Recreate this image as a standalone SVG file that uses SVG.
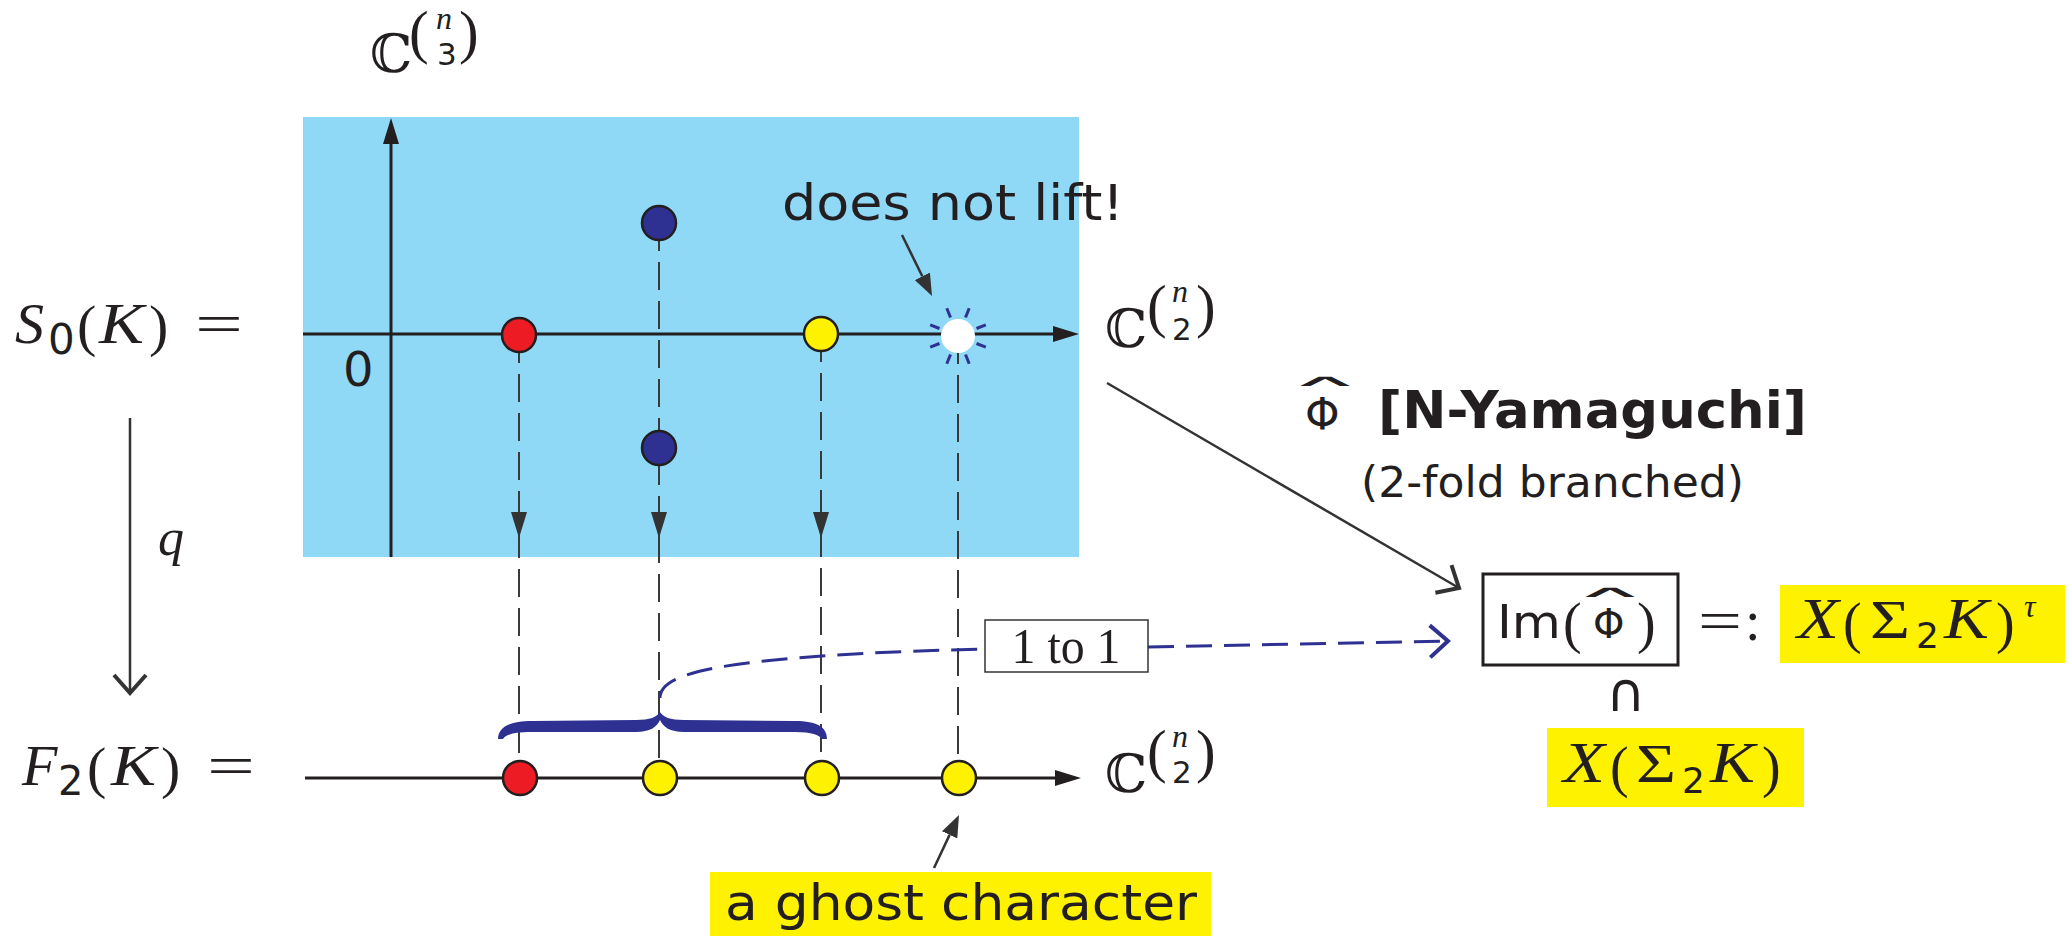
<svg xmlns="http://www.w3.org/2000/svg" width="2069" height="936" viewBox="0 0 2069 936">
<defs>
<style>
.serif{font-family:"Liberation Serif",serif;fill:#231f20}
.it{font-family:"Liberation Serif",serif;font-style:italic;fill:#231f20}
.sans{font-family:"DejaVu Sans","Liberation Sans",sans-serif;fill:#231f20}
.bold{font-family:"DejaVu Sans","Liberation Sans",sans-serif;font-weight:bold;fill:#231f20}
.bb{font-family:"DejaVu Serif","DejaVu Sans",serif;fill:#231f20}
.hat{font-family:"DejaVu Sans",sans-serif;fill:#231f20}
.dot{stroke:#231f20;stroke-width:2.5}
.dash{stroke:#3a3a3a;stroke-width:2;stroke-dasharray:28 11;fill:none}
.ax{stroke:#231f20;stroke-width:3;fill:none}
.thin{stroke:#333;stroke-width:2.5;fill:none}
.bdash{stroke:#2e3192;stroke-width:3;stroke-dasharray:26 12;fill:none}
.ahd{fill:#333}
.ray{stroke:#2e3192;stroke-width:3}
</style>
<marker id="tri" markerUnits="userSpaceOnUse" markerWidth="26" markerHeight="16" viewBox="0 0 26 16" refX="0" refY="8" orient="auto"><path d="M0,0 L26,8 L0,16 z" fill="#231f20"/></marker>
<marker id="tri2" markerUnits="userSpaceOnUse" markerWidth="22" markerHeight="17" viewBox="0 0 22 17" refX="0" refY="8.5" orient="auto"><path d="M0,0 L22,8.5 L0,17 z" fill="#333"/></marker>
<marker id="chev" markerUnits="userSpaceOnUse" markerWidth="30" markerHeight="44" viewBox="-4 -6 30 44" refX="18" refY="16" orient="auto"><path d="M0,0 L18,16 L0,32" fill="none" stroke="#333" stroke-width="4"/></marker>
<marker id="chevb" markerUnits="userSpaceOnUse" markerWidth="30" markerHeight="44" viewBox="-4 -6 30 44" refX="18" refY="16" orient="auto"><path d="M0,0 L18,16 L0,32" fill="none" stroke="#2e3192" stroke-width="4"/></marker>
</defs>

<g id="plane">
<rect x="303" y="117" width="776" height="440" fill="#8fd9f7"/>
</g>

<g id="connectors">
<line class="ax" x1="391" y1="557" x2="391" y2="144" marker-end="url(#tri)"/>
<line class="ax" x1="303" y1="334" x2="1053" y2="334" marker-end="url(#tri)"/>
<line class="ax" x1="305" y1="778" x2="1055" y2="778" marker-end="url(#tri)"/>
<line class="dash" x1="519" y1="335" x2="519" y2="778"/>
<line class="dash" x1="659" y1="223" x2="659" y2="778"/>
<line class="dash" x1="821" y1="334" x2="821" y2="778"/>
<line class="dash" x1="958" y1="336" x2="958" y2="778"/>
<polygon class="ahd" points="511,512 527,512 519,538"/>
<polygon class="ahd" points="651,512 667,512 659,538"/>
<polygon class="ahd" points="813,512 829,512 821,538"/>
<line class="thin" x1="130" y1="418" x2="130" y2="693" marker-end="url(#chev)"/>
<line class="thin" x1="1107" y1="383" x2="1459" y2="588" marker-end="url(#chev)"/>
<line class="thin" x1="902" y1="235" x2="922.3" y2="276.3" marker-end="url(#tri2)"/>
<line class="thin" x1="934" y1="868" x2="949.6" y2="834.9" marker-end="url(#tri2)"/>
<path class="bdash" d="M660,698 C660,676 700,656 985,649"/>
<line class="bdash" x1="1148" y1="647" x2="1448" y2="641" marker-end="url(#chevb)"/>
</g>

<g id="brace">
<path fill="#2e3192" d="M498,739 C498,727 510,721 532,721 L636,720 C650,720 657,717 660,712 C663,717 670,720 684,720 L795,721 C817,721 827,727 827,739 L822,739 C819,735 812,732 795,732 L684,732 C670,732 663,727 660,720 C657,727 650,732 636,732 L532,732 C512,732 506,735 503,739 Z"/>
</g>

<g id="dots-s0">
<circle class="dot" cx="519" cy="335" r="17" fill="#ed1c24"/>
<circle class="dot" cx="659" cy="223" r="17" fill="#2e3192"/>
<circle class="dot" cx="659" cy="448" r="17" fill="#2e3192"/>
<circle class="dot" cx="821" cy="334" r="17" fill="#fff200"/>
</g>

<g id="ghost-burst">
<circle cx="958" cy="336" r="17" fill="#ffffff"/>
<line class="ray" x1="950.5" y1="317.5" x2="946.8" y2="308.2"/>
<line class="ray" x1="965.5" y1="317.5" x2="969.2" y2="308.2"/>
<line class="ray" x1="976.5" y1="328.5" x2="985.8" y2="324.8"/>
<line class="ray" x1="976.5" y1="343.5" x2="985.8" y2="347.2"/>
<line class="ray" x1="965.5" y1="354.5" x2="969.2" y2="363.8"/>
<line class="ray" x1="950.5" y1="354.5" x2="946.8" y2="363.8"/>
<line class="ray" x1="939.5" y1="343.5" x2="930.2" y2="347.2"/>
<line class="ray" x1="939.5" y1="328.5" x2="930.2" y2="324.8"/>
</g>

<g id="dots-f2">
<circle class="dot" cx="520" cy="778" r="17" fill="#ed1c24"/>
<circle class="dot" cx="660" cy="778" r="17" fill="#fff200"/>
<circle class="dot" cx="822" cy="778" r="17" fill="#fff200"/>
<circle class="dot" cx="959" cy="778" r="17" fill="#fff200"/>
</g>

<g id="label-S0">
<text class="it" x="15" y="343" font-size="58">S</text>
<text class="sans" x="48" y="354" font-size="42">0</text>
<text class="serif" x="77" y="345" font-size="58">(</text>
<text class="it" x="99" y="343" font-size="58" textLength="45" lengthAdjust="spacingAndGlyphs">K</text>
<text class="serif" x="149" y="345" font-size="58">)</text>
<text class="serif" x="195" y="343" font-size="58" textLength="48" lengthAdjust="spacingAndGlyphs">=</text>
</g>

<g id="label-F2">
<text class="it" x="22" y="785" font-size="58">F</text>
<text class="sans" x="58" y="795" font-size="40">2</text>
<text class="serif" x="87" y="787" font-size="58">(</text>
<text class="it" x="111" y="785" font-size="58" textLength="45" lengthAdjust="spacingAndGlyphs">K</text>
<text class="serif" x="161" y="787" font-size="58">)</text>
<text class="serif" x="207" y="785" font-size="58" textLength="48" lengthAdjust="spacingAndGlyphs">=</text>
</g>

<g id="label-q">
<text class="it" x="158" y="555" font-size="52">q</text>
</g>

<g id="label-zero">
<text class="sans" x="343" y="386" font-size="48">0</text>
</g>

<g id="label-C3">
<text class="bb" x="370" y="72" font-size="53">ℂ</text>
<text class="serif" x="409" y="52" font-size="59">(</text>
<text class="it" x="436" y="29" font-size="32">n</text>
<text class="sans" x="437" y="65" font-size="31">3</text>
<text class="serif" x="459" y="52" font-size="59">)</text>
</g>

<g id="label-C2-top">
<text class="bb" x="1105" y="347" font-size="53">ℂ</text>
<text class="serif" x="1147" y="326" font-size="59">(</text>
<text class="it" x="1172" y="302" font-size="32">n</text>
<text class="sans" x="1172" y="340" font-size="31">2</text>
<text class="serif" x="1196" y="326" font-size="59">)</text>
</g>

<g id="label-C2-bottom">
<text class="bb" x="1105" y="792" font-size="53">ℂ</text>
<text class="serif" x="1147" y="771" font-size="59">(</text>
<text class="it" x="1172" y="747" font-size="32">n</text>
<text class="sans" x="1172" y="783" font-size="31">2</text>
<text class="serif" x="1196" y="771" font-size="59">)</text>
</g>

<g id="note-lift">
<text class="sans" x="782" y="220" font-size="50" textLength="342" lengthAdjust="spacingAndGlyphs">does not lift!</text>
</g>

<g id="note-ghost">
<rect x="710" y="872" width="501" height="64" fill="#fff200"/>
<text class="sans" x="725" y="920" font-size="50" textLength="472" lengthAdjust="spacingAndGlyphs">a ghost character</text>
</g>

<g id="label-onetoone">
<rect x="985" y="620" width="163" height="52" fill="#ffffff" stroke="#333" stroke-width="1.5"/>
<text class="serif" x="1066" y="663" font-size="50" text-anchor="middle" textLength="109" lengthAdjust="spacingAndGlyphs">1 to 1</text>
</g>

<g id="label-phihat">
<text class="hat" transform="translate(1325,386) scale(6.5,1)" x="0" y="0" font-size="16" text-anchor="middle">∧</text>
<text class="sans" x="1305" y="430" font-size="44">Φ</text>
<text class="bold" x="1378" y="428" font-size="51" textLength="429" lengthAdjust="spacingAndGlyphs">[N-Yamaguchi]</text>
<text class="sans" x="1361" y="497" font-size="42" textLength="383" lengthAdjust="spacingAndGlyphs">(2-fold branched)</text>
</g>

<g id="node-im">
<rect x="1483" y="574" width="195" height="91" fill="none" stroke="#231f20" stroke-width="3"/>
<text class="sans" x="1497" y="638" font-size="46" textLength="64" lengthAdjust="spacingAndGlyphs">Im</text>
<text class="serif" x="1563" y="642" font-size="56">(</text>
<text class="hat" transform="translate(1610,597) scale(6.5,1)" x="0" y="0" font-size="16" text-anchor="middle">∧</text>
<text class="sans" x="1593" y="638" font-size="40">Φ</text>
<text class="serif" x="1637" y="642" font-size="56">)</text>
<text class="serif" x="1698" y="640" font-size="56" textLength="44" lengthAdjust="spacingAndGlyphs">=</text>
<text class="serif" x="1745" y="640" font-size="56">:</text>
</g>

<g id="node-xtau">
<rect x="1780" y="585" width="285" height="78" fill="#fff200"/>
<text class="it" x="1797" y="638" font-size="56" textLength="42" lengthAdjust="spacingAndGlyphs">X</text>
<text class="serif" x="1843" y="642" font-size="56">(</text>
<text class="serif" x="1870" y="638" font-size="54" textLength="40" lengthAdjust="spacingAndGlyphs">Σ</text>
<text class="sans" x="1916" y="648" font-size="36">2</text>
<text class="it" x="1944" y="638" font-size="56" textLength="45" lengthAdjust="spacingAndGlyphs">K</text>
<text class="serif" x="1996" y="642" font-size="56">)</text>
<text class="it" x="2024" y="617" font-size="32">τ</text>
</g>

<g id="subset">
<text class="sans" x="1606" y="711" font-size="54">∩</text>
</g>

<g id="node-x">
<rect x="1547" y="728" width="257" height="79" fill="#fff200"/>
<text class="it" x="1563" y="782" font-size="56" textLength="42" lengthAdjust="spacingAndGlyphs">X</text>
<text class="serif" x="1610" y="786" font-size="56">(</text>
<text class="serif" x="1636" y="782" font-size="54" textLength="40" lengthAdjust="spacingAndGlyphs">Σ</text>
<text class="sans" x="1682" y="793" font-size="36">2</text>
<text class="it" x="1710" y="782" font-size="56" textLength="45" lengthAdjust="spacingAndGlyphs">K</text>
<text class="serif" x="1762" y="786" font-size="56">)</text>
</g>
</svg>
